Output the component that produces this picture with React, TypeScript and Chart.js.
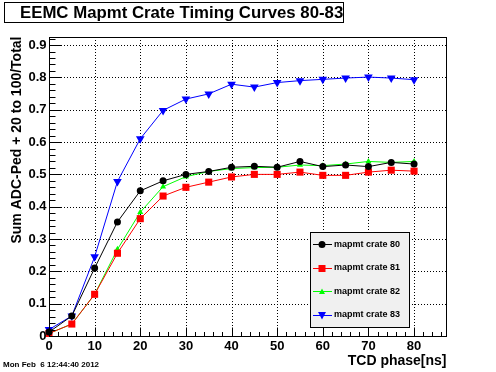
import React, { useEffect, useRef } from "react";
import { Chart, registerables } from "chart.js";

Chart.register(...registerables);

const phases = [0, 5, 10, 15, 20, 25, 30, 35, 40, 45, 50, 55, 60, 65, 70, 75, 80];
const crate80 = [0.012, 0.062, 0.21, 0.353, 0.449, 0.48, 0.5, 0.509, 0.522, 0.525, 0.522, 0.54, 0.524, 0.529, 0.524, 0.537, 0.532];
const crate81 = [0.008, 0.037, 0.129, 0.256, 0.363, 0.433, 0.46, 0.476, 0.492, 0.5, 0.5, 0.507, 0.497, 0.497, 0.507, 0.513, 0.51];
const crate82 = [0.008, 0.037, 0.129, 0.268, 0.383, 0.462, 0.493, 0.509, 0.518, 0.521, 0.522, 0.529, 0.527, 0.532, 0.54, 0.537, 0.54];
const crate83 = [0.02, 0.062, 0.245, 0.478, 0.61, 0.698, 0.733, 0.749, 0.779, 0.77, 0.784, 0.79, 0.794, 0.798, 0.801, 0.798, 0.793];

const seriesLabels = ["mapmt crate 80", "mapmt crate 81", "mapmt crate 82", "mapmt crate 83"];
const seriesColors = ["#000000", "#ff0000", "#00ff00", "#0000ff"];
const seriesMarkers = ["circle", "square", "triUp", "triDown"];

const xTicks = [0, 10, 20, 30, 40, 50, 60, 70, 80];
const xMinorStep = 2;
const yTicks = [0, 0.1, 0.2, 0.3, 0.4, 0.5, 0.6, 0.7, 0.8, 0.9];
const yTickLabels = ["0", "0.1", "0.2", "0.3", "0.4", "0.5", "0.6", "0.7", "0.8", "0.9"];
const yMinorStep = 0.02;

const titleText = "EEMC Mapmt Crate Timing Curves 80-83";
const xTitle = "TCD phase[ns]";
const yTitle = "Sum ADC-Ped + 20 to 100/Total";
const dateText = "Mon Feb  6 12:44:40 2012";

const FONT = '"Liberation Sans", Arial, Helvetica, sans-serif';

function drawMarker(ctx: CanvasRenderingContext2D, kind: string, x: number, y: number, color: string) {
  ctx.save();
  ctx.fillStyle = color;
  ctx.strokeStyle = color;
  ctx.beginPath();
  if (kind === "circle") {
    ctx.arc(x, y, 3.5, 0, Math.PI * 2);
  } else if (kind === "square") {
    ctx.rect(x - 3.5, y - 3.5, 7, 7);
  } else if (kind === "triUp") {
    ctx.moveTo(x, y - 3);
    ctx.lineTo(x + 3, y + 2.5);
    ctx.lineTo(x - 3, y + 2.5);
    ctx.closePath();
  } else {
    ctx.moveTo(x - 4, y - 3.5);
    ctx.lineTo(x + 4, y - 3.5);
    ctx.lineTo(x, y + 4);
    ctx.closePath();
  }
  ctx.fill();
  ctx.restore();
}

const rootPlugin = {
  id: "rootStyle",
  beforeDatasetsDraw(chart: any) {
    const { ctx, chartArea } = chart;
    const xs = chart.scales.x;
    const ys = chart.scales.y;
    ctx.save();
    ctx.strokeStyle = "#000";
    ctx.lineWidth = 1;
    ctx.setLineDash([1, 2]);
    xTicks.forEach((v) => {
      if (v === 0) return;
      const px = Math.round(xs.getPixelForValue(v)) + 0.5;
      ctx.beginPath();
      ctx.moveTo(px, chartArea.top);
      ctx.lineTo(px, chartArea.bottom);
      ctx.stroke();
    });
    yTicks.forEach((v) => {
      if (v === 0) return;
      const py = Math.round(ys.getPixelForValue(v)) + 0.5;
      ctx.beginPath();
      ctx.moveTo(chartArea.left, py);
      ctx.lineTo(chartArea.right, py);
      ctx.stroke();
    });
    ctx.restore();
  },
  afterDatasetsDraw(chart: any) {
    const { ctx, chartArea } = chart;
    const xs = chart.scales.x;
    const ys = chart.scales.y;
    const L = Math.round(chartArea.left) + 0.5;
    const R = Math.round(chartArea.right) + 0.5;
    const T = Math.round(chartArea.top) + 0.5;
    const B = Math.round(chartArea.bottom) + 0.5;
    ctx.save();
    ctx.setLineDash([]);
    ctx.strokeStyle = "#000";
    ctx.lineWidth = 1;
    ctx.strokeRect(L, T, R - L, B - T);

    // y ticks (inside)
    const yMax = ys.max;
    for (let v = 0; v <= yMax + 1e-9; v += yMinorStep) {
      const rounded = Math.round(v * 1000) / 1000;
      const isMajor = Math.abs(rounded * 10 - Math.round(rounded * 10)) < 1e-6;
      const py = Math.round(ys.getPixelForValue(rounded)) + 0.5;
      ctx.beginPath();
      ctx.moveTo(L, py);
      ctx.lineTo(L + (isMajor ? 12 : 6), py);
      ctx.stroke();
    }
    // x ticks (inside)
    for (let v = 0; v <= xs.max + 1e-9; v += xMinorStep) {
      const isMajor = v % 10 === 0;
      const px = Math.round(xs.getPixelForValue(v)) + 0.5;
      ctx.beginPath();
      ctx.moveTo(px, B);
      ctx.lineTo(px, B - (isMajor ? 9 : 4.5));
      ctx.stroke();
    }

    // tick labels
    ctx.fillStyle = "#000";
    ctx.font = `bold 13px ${FONT}`;
    ctx.textAlign = "right";
    ctx.textBaseline = "middle";
    yTicks.forEach((v, i) => {
      ctx.fillText(yTickLabels[i], L - 3, ys.getPixelForValue(v));
    });
    ctx.textAlign = "center";
    ctx.textBaseline = "top";
    xTicks.forEach((v) => {
      ctx.fillText(String(v), xs.getPixelForValue(v), B + 3);
    });

    // axis titles
    ctx.font = `bold 14px ${FONT}`;
    ctx.textAlign = "right";
    ctx.textBaseline = "middle";
    ctx.fillText(xTitle, R, 361);

    ctx.save();
    ctx.translate(17, T - 1);
    ctx.rotate(-Math.PI / 2);
    ctx.font = `bold 14px ${FONT}`;
    ctx.textAlign = "right";
    ctx.textBaseline = "middle";
    ctx.fillText(yTitle, 0, 0);
    ctx.restore();

    // date
    ctx.font = `bold 8px ${FONT}`;
    ctx.textAlign = "left";
    ctx.textBaseline = "middle";
    ctx.fillText(dateText, 3, 365);

    // title box
    ctx.fillStyle = "#fff";
    ctx.fillRect(4.5, 2.5, 339, 20);
    ctx.fillStyle = "#000";
    ctx.font = `bold 16.8px ${FONT}`;
    ctx.textAlign = "left";
    ctx.textBaseline = "middle";
    ctx.fillText(titleText, 20, 13);
    ctx.strokeRect(4.5, 2.5, 339, 20);

    // legend
    const lx = 310.5, ly = 232.5, lw = 99, lh = 95;
    ctx.fillStyle = "#f0f0f0";
    ctx.fillRect(lx, ly, lw, lh);
    ctx.strokeStyle = "#000";
    ctx.strokeRect(lx, ly, lw, lh);
    const entryY = [244, 267.5, 291, 314.5];
    seriesLabels.forEach((lab, i) => {
      const y = entryY[i];
      ctx.strokeStyle = seriesColors[i];
      ctx.beginPath();
      ctx.moveTo(313, Math.round(y) + 0.5);
      ctx.lineTo(332, Math.round(y) + 0.5);
      ctx.stroke();
      drawMarker(ctx, seriesMarkers[i], 322, Math.round(y) + 0.5, seriesColors[i]);
      ctx.fillStyle = "#000";
      ctx.font = `bold 9px ${FONT}`;
      ctx.textAlign = "left";
      ctx.textBaseline = "middle";
      ctx.fillText(lab, 334, y + 0.5);
    });
    ctx.restore();
  },
};

export default function App() {
  const canvasRef = useRef<HTMLCanvasElement | null>(null);

  useEffect(() => {
    if (!canvasRef.current) return;
    const mk = (vals: number[]) => phases.map((p, i) => ({ x: p, y: vals[i] }));
    const chart = new Chart(canvasRef.current, {
      type: "line",
      data: {
        datasets: [
          {
            label: seriesLabels[0],
            data: mk(crate80),
            borderColor: seriesColors[0],
            backgroundColor: seriesColors[0],
            borderWidth: 1,
            pointStyle: "circle",
            pointRadius: 3.5,
            pointBorderWidth: 0,
            tension: 0,
          },
          {
            label: seriesLabels[1],
            data: mk(crate81),
            borderColor: seriesColors[1],
            backgroundColor: seriesColors[1],
            borderWidth: 1,
            pointStyle: "rect",
            pointRadius: 5,
            pointBorderWidth: 0,
            tension: 0,
          },
          {
            label: seriesLabels[2],
            data: mk(crate82),
            borderColor: seriesColors[2],
            backgroundColor: seriesColors[2],
            borderWidth: 1,
            pointStyle: "triangle",
            pointRadius: 3.5,
            pointBorderWidth: 0,
            tension: 0,
          },
          {
            label: seriesLabels[3],
            data: mk(crate83),
            borderColor: seriesColors[3],
            backgroundColor: seriesColors[3],
            borderWidth: 1,
            pointStyle: "triangle",
            pointRotation: 180,
            pointRadius: 5,
            pointBorderWidth: 0,
            tension: 0,
          },
        ],
      },
      options: {
        responsive: false,
        animation: false,
        layout: { padding: { left: 49, top: 37, right: 50, bottom: 36 } },
        scales: {
          x: { type: "linear", min: 0, max: 87, display: false },
          y: { type: "linear", min: 0, max: 0.925, display: false },
        },
        plugins: {
          legend: { display: false },
          tooltip: { enabled: false },
          title: { display: false },
        },
        clip: false as any,
      },
      plugins: [rootPlugin],
    });
    return () => chart.destroy();
  }, []);

  return (
    <div style={{ position: "absolute", left: 0, top: 0, width: 496, height: 372, background: "#fff" }}>
      <canvas ref={canvasRef} width={496} height={372} style={{ display: "block", width: 496, height: 372 }} />
    </div>
  );
}
